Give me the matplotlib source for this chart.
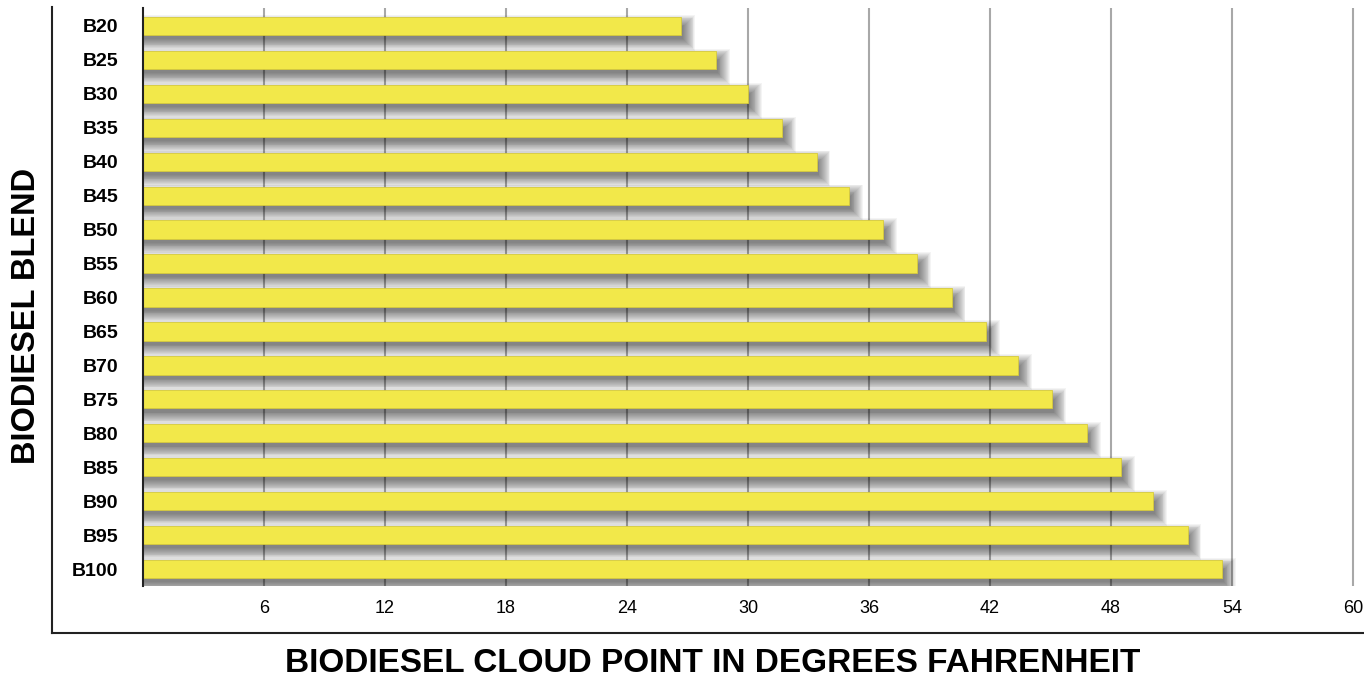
import matplotlib.pyplot as plt
from matplotlib.lines import Line2D
import numpy as np

blends = ["B20", "B25", "B30", "B35", "B40", "B45", "B50", "B55", "B60",
          "B65", "B70", "B75", "B80", "B85", "B90", "B95", "B100"]
cloud_point = [26.7, 28.4, 30.0, 31.7, 33.4, 35.0, 36.7, 38.4, 40.1,
               41.8, 43.4, 45.1, 46.8, 48.5, 50.1, 51.8, 53.5]
xticks = [6, 12, 18, 24, 30, 36, 42, 48, 54, 60]

plt.rcParams['font.family'] = ['Liberation Sans', 'DejaVu Sans']

fig = plt.figure(figsize=(13.64, 6.8), dpi=100)
ax = fig.add_axes([143 / 1364, 1 - 586 / 680, 1 - 143 / 1364, (586 - 8) / 680])

y = np.arange(len(blends))
bh = 0.54
vals = np.array(cloud_point)

# soft drop shadow: stacked translucent bars, each a bit larger
for k in range(14):
    spread = k * 0.026
    ax.barh(y + 0.2, vals + 0.1 + k * 0.045, height=bh - 0.16 + 2 * spread,
            color='black', alpha=0.042, linewidth=0, zorder=2)

ax.barh(y, cloud_point, height=bh, color='#f2e84a', edgecolor='#d6ca3c',
        linewidth=0.6, zorder=3)

ax.set_xlim(0, 60.55)
ax.set_ylim(16.5, -0.53)
ax.set_xticks(xticks)
ax.set_xticklabels([str(t) for t in xticks], fontsize=13)
ax.set_yticks(y)
ax.set_yticklabels(blends, fontsize=14, fontweight='bold')
ax.tick_params(axis='both', length=0)
ax.tick_params(axis='y', pad=18)
ax.tick_params(axis='x', pad=10)
ax.grid(axis='x', color='#a8a8a8', linewidth=1.5, zorder=1)
ax.set_axisbelow(True)
for s in ['top', 'right', 'bottom']:
    ax.spines[s].set_visible(False)
ax.spines['left'].set_linewidth(1.5)
ax.spines['left'].set_color('#222222')
ax.spines['left'].set_zorder(4)

# outer frame lines
fig.add_artist(Line2D([52 / 1364, 52 / 1364], [1 - 7 / 680, 1 - 633 / 680],
                      color='#222222', linewidth=1.5))
fig.add_artist(Line2D([52 / 1364, 1.0], [1 - 633 / 680, 1 - 633 / 680],
                      color='#222222', linewidth=1.5))

fig.text(713 / 1364, 1 - 663 / 680, "BIODIESEL CLOUD POINT IN DEGREES FAHRENHEIT",
         ha='center', va='center', fontsize=24, fontweight='bold')
fig.text(27 / 1364, 1 - 316 / 680, "BIODIESEL BLEND", rotation=90,
         ha='center', va='center', fontsize=23.5, fontweight='bold')

fig.savefig("out.png", dpi=100)
